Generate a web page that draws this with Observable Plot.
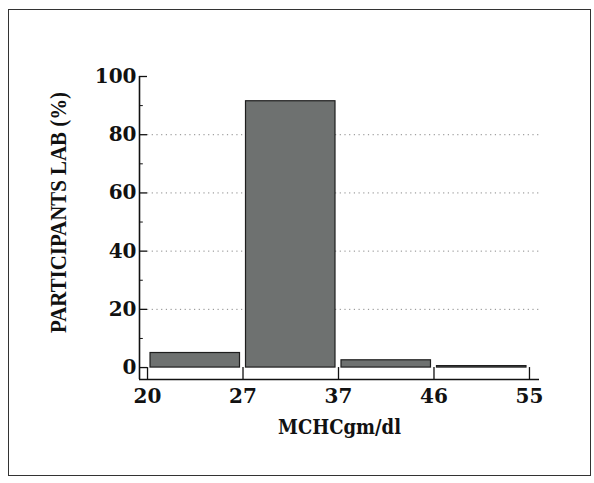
<!DOCTYPE html>
<html>
<head>
<meta charset="utf-8">
<script src="https://cdn.jsdelivr.net/npm/d3@7"></script>
<script src="https://cdn.jsdelivr.net/npm/@observablehq/plot@0.6"></script>
<style>
  html, body { margin: 0; padding: 0; background: #fff; }
  #wrap { position: relative; width: 594px; height: 483px; }
  #border { position: absolute; left: 8px; top: 9px; width: 583px; height: 467px;
            border: 1.5px solid #333; box-sizing: border-box; pointer-events: none; }
</style>
</head>
<body>
<div id="wrap"><div id="border"></div></div>
<script>
// ---- data ----
const edgeLabels = ["20", "27", "37", "46", "55"];       // bin edge tick labels
const binStart = ["20", "27", "37", "46"];
const binEnd = ["27", "37", "46", "55"];
const percent = [5, 91.5, 2.5, 0.5];                       // participants (%)
const yMajorTicks = [0, 20, 40, 60, 80, 100];
const yMinorTicks = [10, 30, 50, 70, 90];
const yGrid = [20, 40, 60, 80];
const xTitle = "MCHCgm/dl";
const yTitle = "PARTICIPANTS LAB (%)";

const bins = binStart.map((s, i) => ({
  x1: edgeLabels.indexOf(s),
  x2: edgeLabels.indexOf(binEnd[i]),
  value: percent[i]
}));
const edgeIdx = edgeLabels.map((_, i) => i);

const xDomain = [-0.084, 4.105];
const yDomain = [-4.1, 100];

const chart = Plot.plot({
  width: 594,
  height: 483,
  marginLeft: 139,
  marginRight: 55,
  marginTop: 76,
  marginBottom: 104,
  style: {fontFamily: "'DejaVu Serif', serif", fontWeight: "bold", fontSize: "20px", color: "#111", background: "transparent"},
  x: {type: "linear", domain: xDomain},
  y: {type: "linear", domain: yDomain},
  marks: [
    // dotted gridlines
    Plot.ruleY(yGrid, {y: d => d, x1: 0, x2: xDomain[1], stroke: "#888", strokeWidth: 1, strokeDasharray: "1.2,3.5"}),
    // bars
    Plot.rectY(bins, {x1: "x1", x2: "x2", y: "value", insetLeft: 3, insetRight: 3,
      fill: "#6e7170", stroke: "#1e1e1e", strokeWidth: 1.2}),
    // axis lines
    Plot.ruleX([xDomain[0]], {stroke: "#111", strokeWidth: 1.6}),
    Plot.ruleY([yDomain[0]], {stroke: "#111", strokeWidth: 1.6}),
    // y ticks (inward)
    Plot.ruleY(yMajorTicks, {y: d => d, x1: xDomain[0], x2: 0, stroke: "#111", strokeWidth: 1.3}),
    Plot.ruleY(yMinorTicks, {y: d => d, x1: xDomain[0], x2: xDomain[0] + 0.04, stroke: "#111", strokeWidth: 1}),
    // x ticks (inward)
    Plot.ruleX(edgeIdx, {x: d => d, y1: yDomain[0], y2: 0, stroke: "#111", strokeWidth: 1.3}),
    // axis labels
    Plot.axisY({ticks: yMajorTicks, tickSize: 0, tickPadding: 3, label: null}),
    Plot.axisX({ticks: edgeIdx, tickSize: 0, tickPadding: 9, tickFormat: i => edgeLabels[i], label: null}),
    // titles
    Plot.text([xTitle], {frameAnchor: "bottom", dy: 48, textAnchor: "middle", lineAnchor: "middle", fontSize: 20, fill: "#111"}),
    Plot.text([yTitle], {frameAnchor: "left", dx: -81, dy: -15.5, rotate: -90, textAnchor: "middle", lineAnchor: "middle", fontSize: 24, fill: "#111"})
  ]
});

// condense titles to match the narrow lettering of the original
chart.querySelectorAll("text").forEach(t => {
  if (t.textContent === yTitle) {
    t.setAttribute("font-family", "'Liberation Serif', serif");
    t.style.fontFamily = "'Liberation Serif', serif";
    t.setAttribute("textLength", 241);
    t.setAttribute("lengthAdjust", "spacingAndGlyphs");
  } else if (t.textContent === xTitle) {
    t.setAttribute("textLength", 123);
    t.setAttribute("lengthAdjust", "spacingAndGlyphs");
  }
});

document.getElementById("wrap").prepend(chart);
chart.style.position = "absolute";
chart.style.left = "0";
chart.style.top = "0";
</script>
</body>
</html>
